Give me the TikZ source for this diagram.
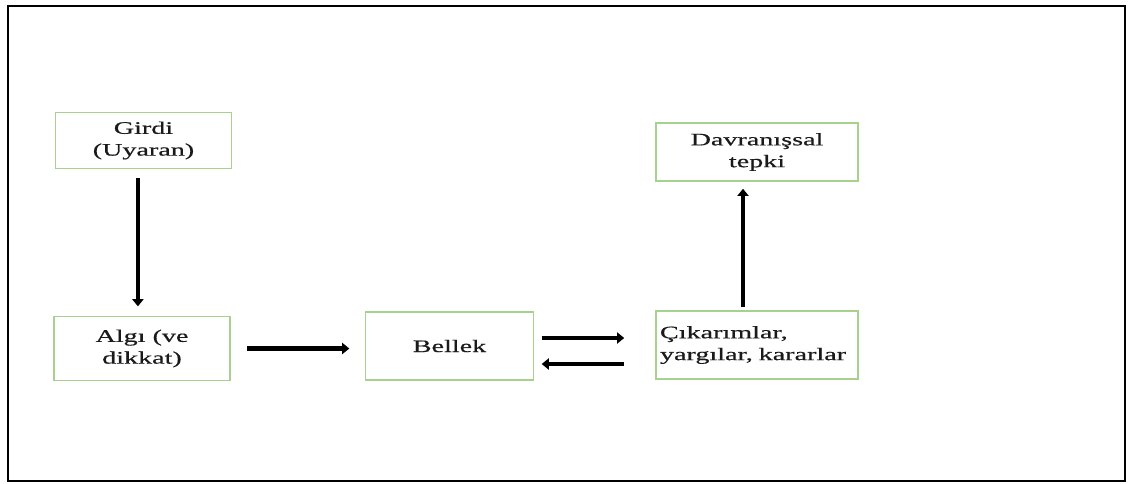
\documentclass[tikz,border=0pt]{standalone}
\usepackage{fontspec}
\setmainfont[FakeStretch=1.6, FakeBold=0.6]{Liberation Serif}
\usepackage{xcolor}
\usepackage{tikz}
\usetikzlibrary{arrows.meta, positioning}
\definecolor{stagegreen}{HTML}{A9D18E}
\definecolor{stagetext}{HTML}{1A1A1A}

\begin{document}
\begin{tikzpicture}[
  x=0.025cm, y=-0.025cm,
  stage/.style={rectangle, draw=stagegreen, line width=0.8pt, text=stagetext, align=center, inner sep=2pt, font=\fontsize{12.5}{15.5}\selectfont},
  arrow/.style={-{Triangle[length=1.8mm, width=2.8mm]}, line width=3.4pt}
]
\useasboundingbox (0,0) rectangle (1128,483);
\draw[line width=1.8pt] (8,6) rectangle (1125,481);

\node[stage, minimum width=4.4cm, minimum height=1.4cm] (girdi) at (143.5,140.5) {Girdi\\(Uyaran)};
\node[stage, minimum width=4.4cm, minimum height=1.58cm] (algi) at (142,348.5) {Algı (ve\\dikkat)};
\node[stage, minimum width=4.18cm, minimum height=1.7cm] (bellek) at (449.5,346) {Bellek};
\node[stage, text width=4.85cm, inner xsep=0.1cm, minimum height=1.7cm, align=left] (cikarim) at (757,345) {Çıkarımlar,\\yargılar, kararlar};
\node[stage, minimum width=5.05cm, minimum height=1.45cm] (davranis) at (757,152) {Davranışsal\\tepki};

\draw[arrow, shorten <=0.22cm, shorten >=0.25cm] ([xshift=-0.14cm]girdi.south) -- ([xshift=-0.14cm]girdi.south |- algi.north);
\draw[arrow, shorten <=0.42cm, shorten >=0.4cm] (algi.east) -- (algi.east -| bellek.west);
\draw[arrow, shorten <=0.2cm, shorten >=0.78cm] ([yshift=0.2cm]bellek.east) -- ([yshift=0.2cm]bellek.east -| cikarim.west);
\draw[arrow, shorten <=0.78cm, shorten >=0.2cm] ([yshift=-0.45cm]bellek.east -| cikarim.west) -- ([yshift=-0.45cm]bellek.east);
\draw[arrow, shorten <=0.08cm, shorten >=0.18cm] ([xshift=-0.35cm]cikarim.north) -- ([xshift=-0.35cm]cikarim.north |- davranis.south);
\end{tikzpicture}
\end{document}
